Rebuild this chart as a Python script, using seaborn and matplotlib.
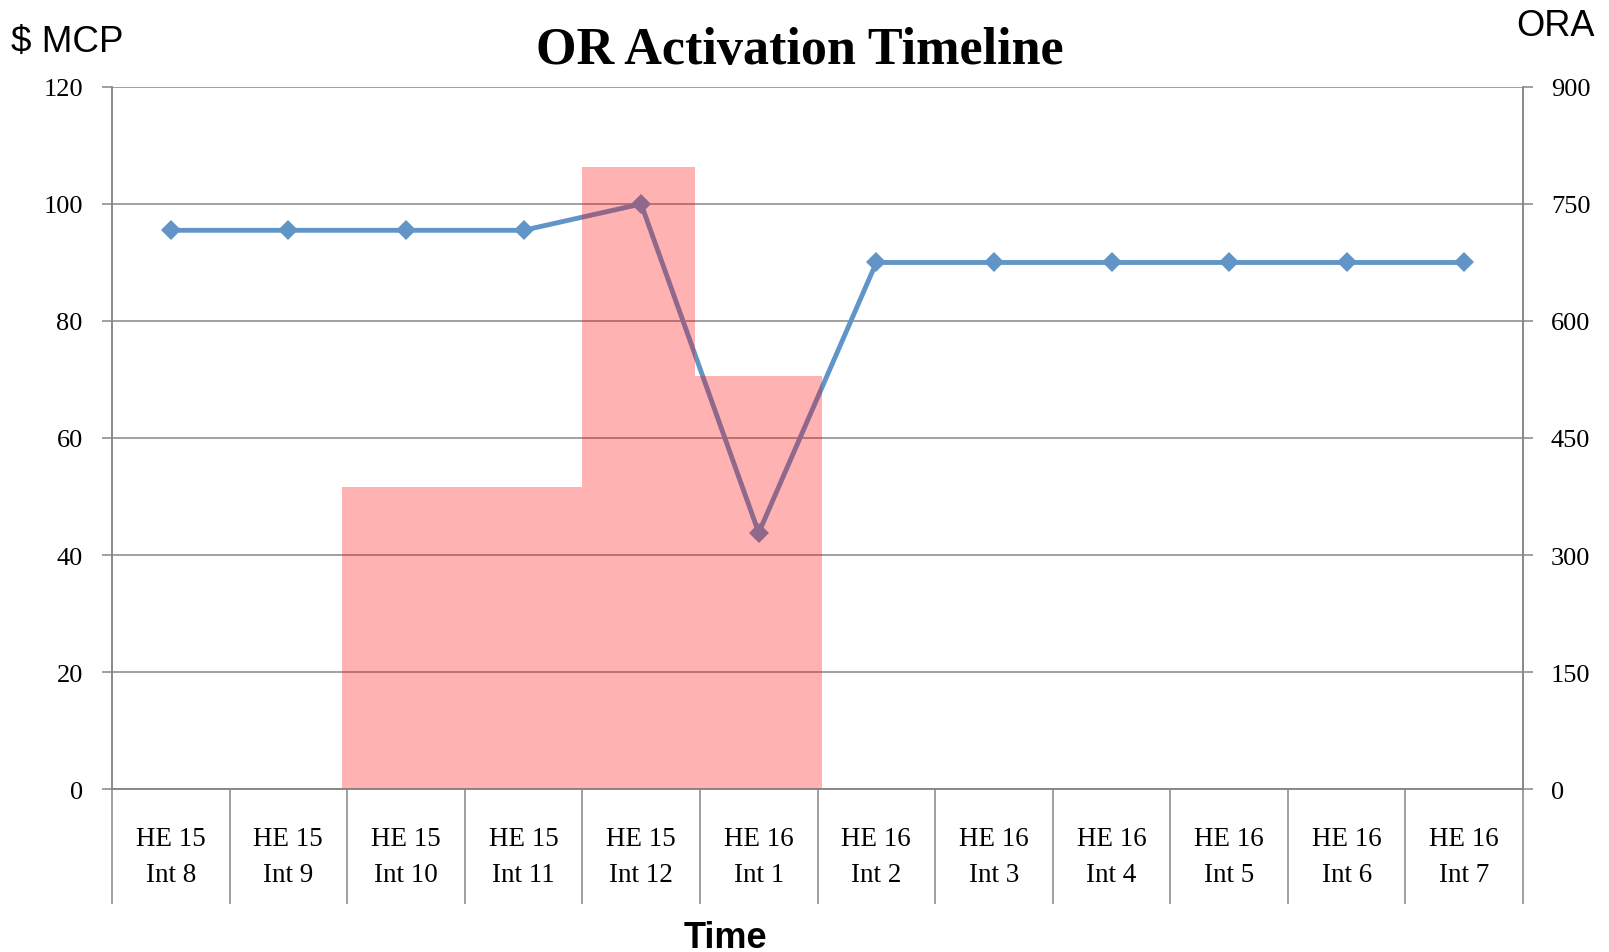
import matplotlib.pyplot as plt
import seaborn as sns
import pandas as pd
import numpy as np

# data
hours = ['HE 15'] * 5 + ['HE 16'] * 7
intervals = ['Int 8', 'Int 9', 'Int 10', 'Int 11', 'Int 12',
             'Int 1', 'Int 2', 'Int 3', 'Int 4', 'Int 5', 'Int 6', 'Int 7']
mcp = [95.5, 95.5, 95.5, 95.5, 100, 43.8, 90, 90, 90, 90, 90, 90]
# ORA steps (left edge, right edge in category units) and height
ora_left = [1.46, 3.50, 4.46]
ora_right = [3.50, 4.46, 5.54]
ora = [387, 797, 530]

labels = [f'{h}\n{i}' for h, i in zip(hours, intervals)]
df = pd.DataFrame({'pos': np.arange(len(mcp)), 'mcp': mcp})

sns.set_theme(style='white', rc={'text.color': 'black'})
plt.rcParams['font.family'] = ['Liberation Serif', 'DejaVu Serif']

grey = '#868686'
fig = plt.figure(figsize=(16.09, 9.53), dpi=100)
ax = fig.add_axes([0.0696, 0.171, 0.8770, 0.7367])

ax.set_ylim(0, 120)
ax.set_yticks(np.arange(0, 121, 20))
ax.grid(axis='y', color=grey, lw=1.1)
ax.set_axisbelow(True)

sns.lineplot(data=df, x='pos', y='mcp', ax=ax, color='#6195C8', lw=3.5,
             marker='D', markersize=10, markeredgewidth=0, zorder=3)
ax.set_xlim(-0.5, len(mcp) - 0.5)

ax2 = ax.twinx()
ax2.bar(ora_left, ora, width=np.subtract(ora_right, ora_left), align='edge',
        color='red', alpha=0.3, linewidth=0)
ax2.set_ylim(0, 900)
ax2.set_yticks(np.arange(0, 901, 150))

for a in (ax, ax2):
    for s in a.spines.values():
        s.set_color(grey)
        s.set_linewidth(1.1)
    a.spines['top'].set_visible(False)
    a.set_xlabel('')
    a.set_ylabel('')

ax.tick_params(axis='y', left=True, length=7, width=1.1, color=grey,
               pad=14, labelsize=19, labelcolor='black')
ax2.tick_params(axis='y', right=True, length=7, width=1.1, color=grey,
                pad=13, labelsize=19, labelcolor='black')

ax.set_xticks(df['pos'])
ax.set_xticklabels(labels, fontsize=19.5, linespacing=1.58)
ax.set_xticks(np.arange(-0.5, len(mcp)), minor=True)
ax.tick_params(axis='x', which='major', length=0, pad=26.5, labelcolor='black')
ax.tick_params(axis='x', which='minor', bottom=True, length=83, width=1.1,
               color=grey)

fig.text(0.497, 0.947, 'OR Activation Timeline', ha='center', va='center',
         fontsize=37.5, fontweight='bold', color='black')
fig.text(0.007, 0.955, '$ MCP', ha='left', va='center', fontsize=26.5,
         family='Liberation Sans', color='black')
fig.text(0.991, 0.972, 'ORA', ha='right', va='center', fontsize=26,
         family='Liberation Sans', color='black')
fig.text(0.451, 0.015, 'Time', ha='center', va='center', fontsize=26,
         fontweight='bold', family='Liberation Sans', color='black')

plt.savefig('out.png', dpi=100)
plt.close()
